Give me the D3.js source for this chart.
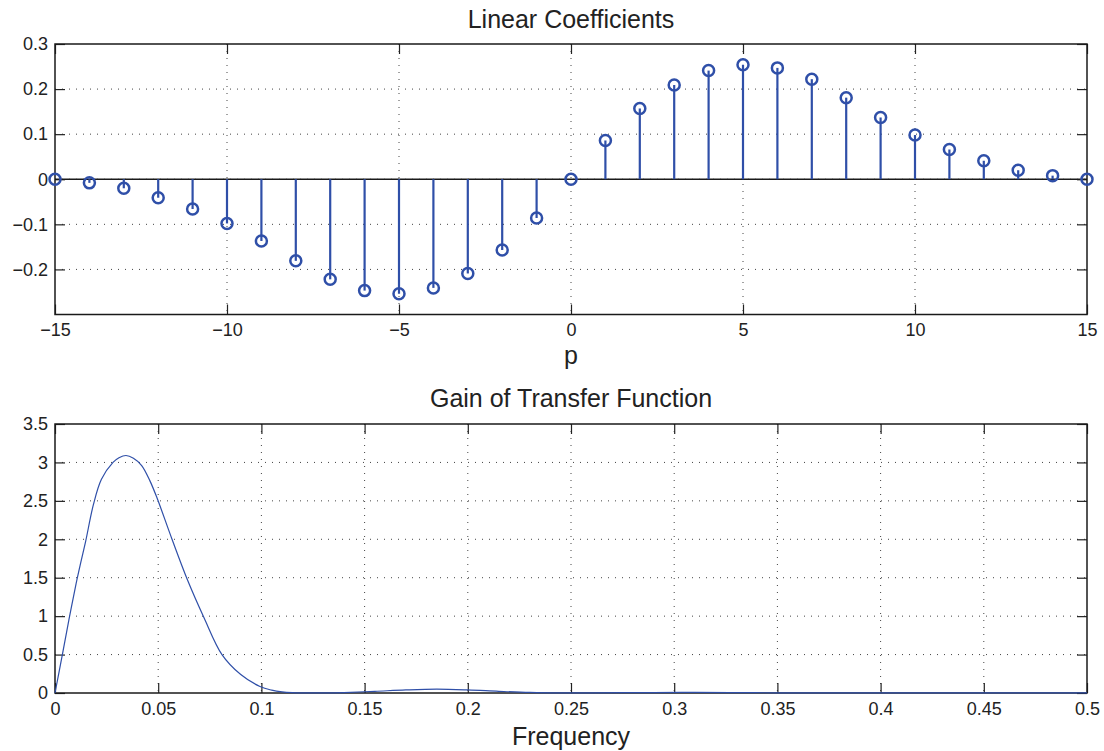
<!DOCTYPE html>
<html>
<head>
<meta charset="utf-8">
<script src="https://cdn.jsdelivr.net/npm/d3@7"></script>
<style>
  html, body { margin: 0; padding: 0; background: #fff; }
  svg { display: block; }
  text { font-family: "Liberation Sans", Arial, Helvetica, sans-serif; fill: #222; }
</style>
</head>
<body>
<svg id="chart" width="1104" height="751"></svg>
<script>
// ---- data ----
const lags = [-15,-14,-13,-12,-11,-10,-9,-8,-7,-6,-5,-4,-3,-2,-1,0,1,2,3,4,5,6,7,8,9,10,11,12,13,14,15];
const coefficients = [0,-0.008,-0.02,-0.041,-0.066,-0.098,-0.137,-0.181,-0.222,-0.247,-0.254,-0.241,-0.209,-0.157,-0.086,
                      0,0.086,0.157,0.209,0.241,0.254,0.247,0.222,0.181,0.137,0.098,0.066,0.041,0.02,0.008,0];
const topXTicks = [-15,-10,-5,0,5,10,15];
const topYTicks = [-0.2,-0.1,0,0.1,0.2,0.3];

const gainFreq  = [0,0.0035,0.0068,0.0102,0.0125,0.0149,0.0186,0.0225,0.0281,0.031,0.0344,0.038,0.042,0.046,0.0494,0.0567,0.0642,0.0722,0.0809,0.09,0.0993,0.105,0.11,0.115,0.12,0.13,0.14,0.155,0.17,0.185,0.2,0.215,0.23,0.245,0.26,0.29,0.31,0.33,0.35,0.37,0.4,0.45,0.5];
const gainValue = [0,0.49,0.96,1.42,1.7,1.98,2.45,2.78,3.0,3.06,3.09,3.055,2.96,2.76,2.54,2.0,1.47,0.98,0.5,0.24,0.085,0.037,0.014,0.004,0.001,0.001,0.006,0.022,0.04,0.05,0.04,0.022,0.007,0.001,0.002,0.006,0.007,0.005,0.002,0.0005,0.0005,0.0005,0.0005];
const botXTicks = [0,0.05,0.1,0.15,0.2,0.25,0.3,0.35,0.4,0.45,0.5];
const botYTicks = [0,0.5,1,1.5,2,2.5,3,3.5];

// ---- layout ----
const svg = d3.select("#chart");
const L = 55, R = 1087;
const blue = "#2f4fa8";
const fmtY = d => (d < 0 ? "\u2212" + Math.abs(d) : String(d));

function panel(top, bottom, xDomain, yDomain, xTicks, yTicks) {
  const x = d3.scaleLinear().domain(xDomain).range([L, R]);
  const y = d3.scaleLinear().domain(yDomain).range([bottom, top]);
  const g = svg.append("g");
  // grid
  g.selectAll(".vg").data(xTicks.filter(t => t !== xDomain[0] && t !== xDomain[1]))
    .join("line").attr("x1", d => x(d)).attr("x2", d => x(d)).attr("y1", top).attr("y2", bottom)
    .attr("stroke", "#444").attr("stroke-width", 1).attr("stroke-dasharray", "1,6");
  g.selectAll(".hg").data(yTicks.filter(t => t !== yDomain[0] && t !== yDomain[1]))
    .join("line").attr("y1", d => y(d)).attr("y2", d => y(d)).attr("x1", L).attr("x2", R)
    .attr("stroke", "#444").attr("stroke-width", 1).attr("stroke-dasharray", "1,6");
  // axes
  const tl = 10;
  const xb = g.append("g").attr("transform", `translate(0,${bottom})`)
    .call(d3.axisBottom(x).tickValues(xTicks).tickSize(-tl).tickPadding(9).tickFormat(fmtY));
  const xt = g.append("g").attr("transform", `translate(0,${top})`)
    .call(d3.axisTop(x).tickValues(xTicks).tickSize(-tl).tickFormat(""));
  const yl = g.append("g").attr("transform", `translate(${L},0)`)
    .call(d3.axisLeft(y).tickValues(yTicks).tickSize(-tl).tickPadding(7).tickFormat(fmtY));
  const yr = g.append("g").attr("transform", `translate(${R},0)`)
    .call(d3.axisRight(y).tickValues(yTicks).tickSize(-tl).tickFormat(""));
  [xb, xt, yl, yr].forEach(a => {
    a.select(".domain").remove();
    a.selectAll(".tick line").attr("stroke", "#222").attr("stroke-width", 1.2);
    a.selectAll("text").attr("font-size", 18).attr("fill", "#222")
      .attr("font-family", '"Liberation Sans", Arial, sans-serif');
  });
  g.append("rect").attr("x", L).attr("y", top).attr("width", R - L).attr("height", bottom - top)
    .attr("fill", "none").attr("stroke", "#1a1a1a").attr("stroke-width", 1.5);
  return { x, y, g };
}

// ---- top panel ----
const T = panel(44, 314.5, [-15, 15], [-0.3, 0.3], topXTicks, topYTicks);
T.g.append("line").attr("x1", L).attr("x2", R).attr("y1", T.y(0)).attr("y2", T.y(0))
  .attr("stroke", "#1a1a1a").attr("stroke-width", 1.5);
T.g.selectAll(".stem").data(lags).join("line")
  .attr("x1", d => T.x(d)).attr("x2", d => T.x(d))
  .attr("y1", T.y(0)).attr("y2", (d, i) => T.y(coefficients[i]))
  .attr("stroke", blue).attr("stroke-width", 2.2);
T.g.selectAll(".mk").data(lags).join("circle")
  .attr("cx", d => T.x(d)).attr("cy", (d, i) => T.y(coefficients[i])).attr("r", 5.5)
  .attr("fill", "none").attr("stroke", blue).attr("stroke-width", 2.5);
svg.append("text").attr("x", 571).attr("y", 28).attr("text-anchor", "middle")
  .attr("font-size", 25).text("Linear Coefficients");
svg.append("text").attr("x", 571).attr("y", 364).attr("text-anchor", "middle")
  .attr("font-size", 25).text("p");

// ---- bottom panel ----
const line = d3.line().x((d, i) => B.x(gainFreq[i])).y(d => B.y(d)).curve(d3.curveCatmullRom.alpha(0.5));
const B = panel(424, 693, [0, 0.5], [0, 3.5], botXTicks, botYTicks);
B.g.append("path").datum(gainValue).attr("d", line)
  .attr("fill", "none").attr("stroke", blue).attr("stroke-width", 1.2);
svg.append("text").attr("x", 571).attr("y", 407).attr("text-anchor", "middle")
  .attr("font-size", 25).text("Gain of Transfer Function");
svg.append("text").attr("x", 571).attr("y", 745).attr("text-anchor", "middle")
  .attr("font-size", 25).text("Frequency");
</script>
</body>
</html>
